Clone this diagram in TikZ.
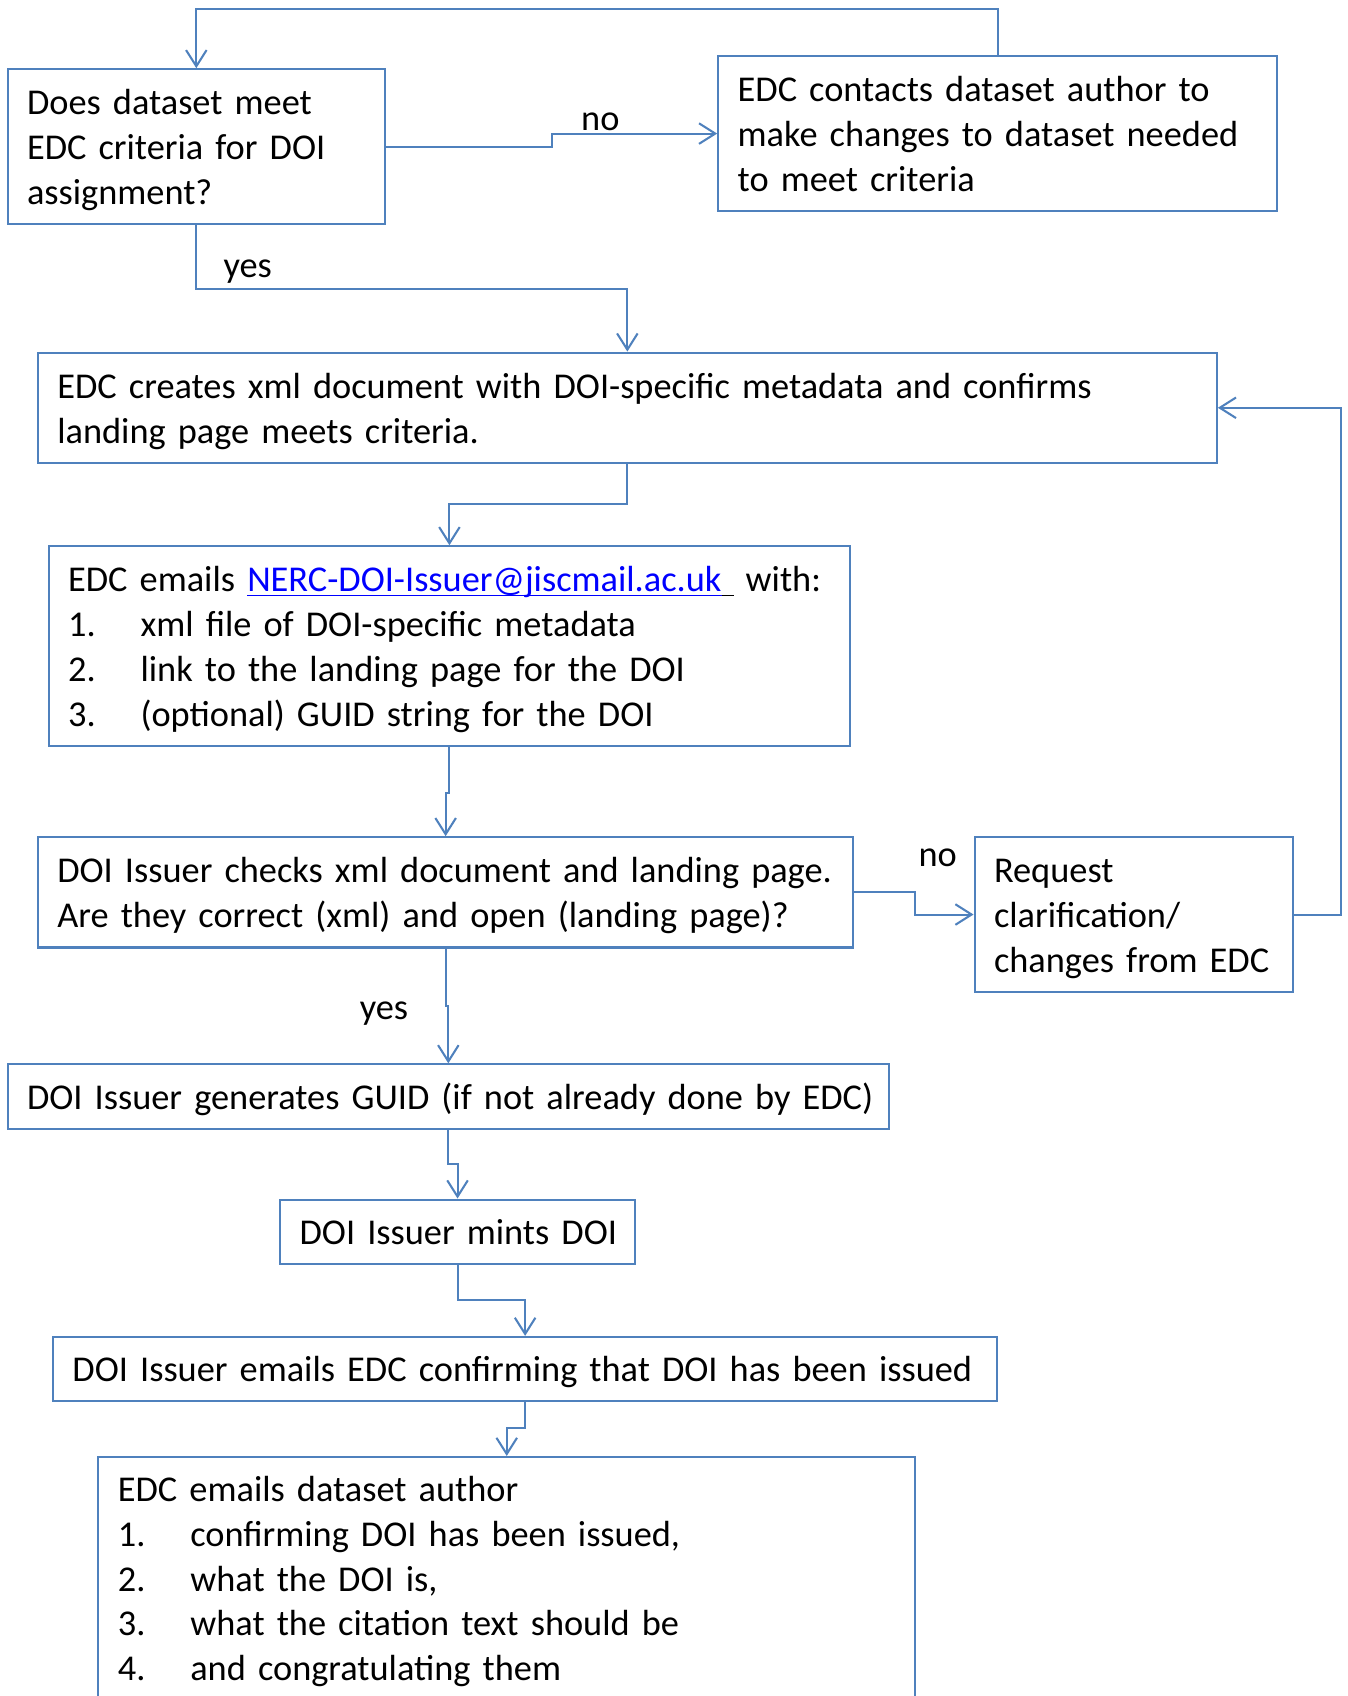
\documentclass[tikz,border=0pt]{standalone}
\usepackage{fontspec}
\setmainfont{Carlito}
\usetikzlibrary{arrows.meta}
\definecolor{lineblue}{HTML}{4F81BD}
\definecolor{linkblue}{HTML}{0000FF}
\newcommand\myul[1]{\setbox0\hbox{#1}\rlap{\rule[-4pt]{\wd0}{1.4pt}}\box0}
\newcommand\itm[1]{\makebox[67pt][l]{#1}}
\newcommand\bxl[1]{\mbox{\rule[-8.75pt]{0pt}{41.5pt}#1}}
\newcommand\boxfont{\fontsize{33.6}{41.5}\selectfont\spaceskip=6.4pt\relax}
\tikzset{
  box/.style={draw=lineblue, line width=1.9pt, inner xsep=18pt, inner ysep=0pt,
    align=left, font=\boxfont, text=black},
  lbl/.style={inner sep=0pt, font=\boxfont, text=black},
  conn/.style={draw=lineblue, line width=1.9pt,
    -{Straight Barb[length=15pt,width=19pt,line width=1.9pt]}}
}
\begin{document}
\begin{tikzpicture}[x=1pt,y=-1pt]
\path[use as bounding box] (0,0) rectangle (1246,1568);
\clip (0,0) rectangle (1246,1568);
\fill[white] (0,0) rectangle (1246,1568);

\node[box, text width=313pt, minimum height=143pt] (b1) at (181.5,135.5)
  {\bxl{Does dataset meet}\\\bxl{EDC criteria for DOI}\\\bxl{assignment?}};
\node[box, text width=481pt, minimum height=143pt] (b2) at (922.5,123.5)
  {\bxl{EDC contacts dataset author to}\\\bxl{make changes to dataset needed}\\\bxl{to meet criteria}};
\node[box, text width=1054pt, minimum height=102pt] (b3) at (580,377)
  {\bxl{EDC creates xml document with DOI-specific metadata and confirms}\\\bxl{landing page meets criteria.}};
\node[box, text width=705pt, minimum height=185pt] (b4) at (415.5,597.5)
  {\bxl{EDC emails {\color{linkblue}\myul{NERC-DOI-Issuer@jiscmail.ac.uk}}\myul{\ }\ with:}\\
   \bxl{\itm{1.}xml file of DOI-specific metadata}\\
   \bxl{\itm{2.}link to the landing page for the DOI}\\
   \bxl{\itm{3.}(optional) GUID string for the DOI}};
\node[box, text width=718pt, minimum height=102pt] (b5) at (412,825)
  {\bxl{DOI Issuer checks xml document and landing page.}\\\bxl{Are they correct (xml) and open (landing page)?}};
\node[box, text width=258pt, minimum height=143pt] (b6) at (1048,845.5)
  {\bxl{Request}\\\bxl{clarification/}\\\bxl{changes from EDC}};
\node[box, text width=779pt, minimum height=60pt] (b7) at (414.5,1014)
  {\bxl{DOI Issuer generates GUID (if not already done by EDC)}};
\node[box, text width=292pt, minimum height=60pt] (b8) at (423,1139)
  {\bxl{DOI Issuer mints DOI}};
\node[box, text width=837pt, minimum height=59pt] (b9) at (485.5,1265.5)
  {\bxl{DOI Issuer emails EDC confirming that DOI has been issued}};
\node[box, text width=719pt, minimum height=224pt] (b10) at (468.5,1459)
  {\bxl{EDC emails dataset author}\\
   \bxl{\itm{1.}confirming DOI has been issued,}\\
   \bxl{\itm{2.}what the DOI is,}\\
   \bxl{\itm{3.}what the citation text should be}\\
   \bxl{\itm{4.}and congratulating them}};

% helper coordinates
\coordinate (ytop) at (0,8);
\coordinate (xno1) at (510,0);
\coordinate (yyes1) at (0,267);
\coordinate (y34) at (0,466);
\coordinate (y45) at (0,733);
\coordinate (xno2) at (846,0);
\coordinate (xback) at (1240,0);
\coordinate (y57) at (0,930);
\coordinate (y78) at (0,1076);
\coordinate (y89) at (0,1202);
\coordinate (y910) at (0,1320);

\draw[conn] (b2.north) |- (b1.north |- ytop) -- (b1.north);
\draw[conn] (b1.east) -| (xno1 |- b2.west) -- (b2.west);
\draw[conn] (b1.south) |- (b3.north |- yyes1) -- (b3.north);
\draw[conn] (b3.south) |- (b4.north |- y34) -- (b4.north);
\draw[conn] (b4.south) |- (b5.north |- y45) -- (b5.north);
\draw[conn] (b5.east) -| (xno2 |- b6.west) -- (b6.west);
\draw[conn] (b6.east) -| (xback |- b3.east) -- (b3.east);
\draw[conn] (b5.south) |- (b7.north |- y57) -- (b7.north);
\draw[conn] (b7.south) |- (b8.north |- y78) -- (b8.north);
\draw[conn] (b8.south) |- (b9.north |- y89) -- (b9.north);
\draw[conn] (b9.south) |- (b10.north |- y910) -- (b10.north);

\node[lbl] (lno1) at (555,113) {no};
\node[lbl] (lyes1) at (229,251) {yes};
\node[lbl] (lno2) at (867,793) {no};
\node[lbl] (lyes2) at (355,937) {yes};
\end{tikzpicture}
\end{document}
